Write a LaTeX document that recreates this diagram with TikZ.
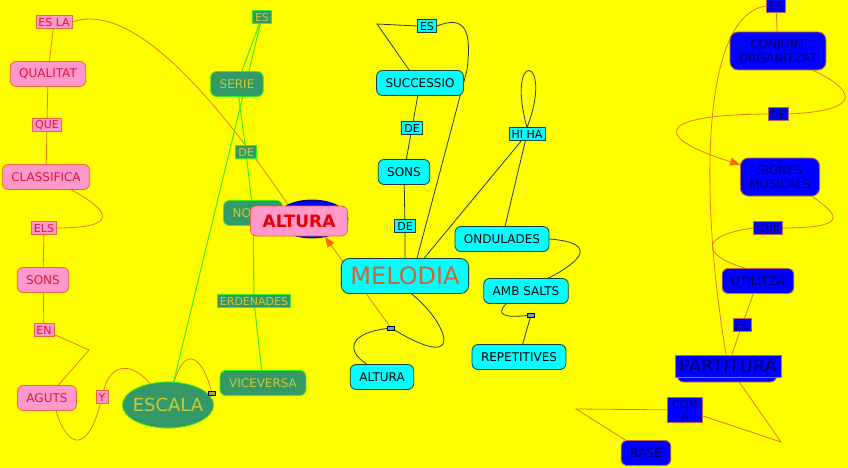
\documentclass[tikz,border=0pt]{standalone}
\usepackage{fontspec}
\setmainfont{DejaVu Sans}
\usepackage{tikz}
\usetikzlibrary{arrows.meta,shapes.geometric}
\definecolor{paper}{RGB}{255,255,0}
\definecolor{pinkfill}{RGB}{255,153,204}
\definecolor{pinkbord}{RGB}{238,100,60}
\definecolor{pinktext}{RGB}{220,20,60}
\definecolor{linkorange}{RGB}{228,120,30}
\definecolor{tiporange}{RGB}{255,102,0}
\definecolor{greenfill}{RGB}{51,153,102}
\definecolor{greenbord}{RGB}{60,235,30}
\definecolor{greentext}{RGB}{200,200,60}
\definecolor{cyanfill}{RGB}{0,255,255}
\definecolor{cyanbord}{RGB}{30,60,60}
\definecolor{melodiatext}{RGB}{204,102,51}
\definecolor{bluefill}{RGB}{0,0,255}
\definecolor{bluebord}{RGB}{190,100,80}
\definecolor{bluetext}{RGB}{0,0,100}
\pgfdeclarelayer{paper}
\pgfdeclarelayer{links}
\pgfsetlayers{paper,links,main}
\tikzset{
  concept/.style={rectangle, rounded corners=6pt, line width=0.8pt, inner xsep=9pt, inner ysep=2pt,
    minimum height=25pt, align=center, font=\fontsize{12}{14}\selectfont},
  pinkbox/.style={concept, fill=pinkfill, draw=pinkbord, text=pinktext},
  greenbox/.style={concept, fill=greenfill, draw=greenbord, text=greentext},
  cyanbox/.style={concept, fill=cyanfill, draw=cyanbord, text=black},
  bluebox/.style={concept, fill=bluefill, draw=bluebord, text=bluetext},
  linkword/.style={rectangle, line width=0.6pt, inner xsep=2.5pt, inner ysep=1pt,
    minimum height=12.5pt, align=center, font=\fontsize{11}{12}\selectfont},
  pinkword/.style={linkword, fill=pinkfill, draw=pinkbord, text=pinktext},
  greenword/.style={linkword, fill=greenfill, draw=greenbord, text=greentext},
  cyanword/.style={linkword, fill=cyanfill, draw=cyanbord, text=black},
  blueword/.style={linkword, fill=bluefill, draw=bluebord, text=bluetext},
  joint/.style={rectangle, inner sep=0pt, minimum width=7pt, minimum height=4pt, line width=0.5pt, draw=black},
  pinkln/.style={draw=linkorange, line width=0.8pt},
  greenln/.style={draw=greenbord, line width=1pt},
  darkln/.style={draw=cyanbord, line width=0.8pt},
  crossln/.style={pinkln, -{Triangle[length=10pt,width=8pt,color=tiporange]}},
}

\begin{document}
\begin{tikzpicture}[x=1pt,y=-1pt]
  \useasboundingbox (0,0) rectangle (848,468);
  \begin{pgfonlayer}{paper}
    \fill[paper] (0,0) rectangle (848,468);
  \end{pgfonlayer}

  % qualitat
  \node[pinkword] (esla) at (54,22) {ES LA};
  \node[pinkbox] (qualitat) at (48,74) {QUALITAT};
  \node[pinkword] (queP) at (47,125) {QUE};
  \node[pinkbox] (classifica) at (46,177) {CLASSIFICA};
  \node[pinkword] (els) at (44,228) {ELS};
  \node[pinkbox] (sonsP) at (43,280) {SONS};
  \node[pinkword] (en) at (44,330) {EN};
  \node[pinkbox] (aguts) at (47,398) {AGUTS};
  \node[pinkword] (yword) at (102,397) {Y};

  % escala
  \node[greenword] (esG) at (262,17) {ES};
  \node[greenbox] (serie) at (237,84) {SERIE};
  \node[greenword] (deG) at (246,152) {DE};
  \node[greenbox] (notes) at (253,213) {NOTES};
  \node[greenword] (erdenades) at (254,301) {ERDENADES};
  \node[greenbox] (viceversa) at (263,383) {VICEVERSA};
  \node[ellipse, fill=greenfill, draw=greenbord, line width=0.8pt, text=greentext,
    inner xsep=-3pt, inner ysep=0pt, minimum width=91pt, minimum height=46pt,
    font=\fontsize{18}{20}\selectfont] (escala) at (168,405) {ESCALA};
  \node[joint, fill=olive!70] (jointE) at (212,393) {};

  % altura
  \node[ellipse, fill=bluefill, draw=bluetext, line width=0.8pt, inner sep=0pt,
    minimum width=72pt, minimum height=38pt] (alturaBack) at (312,219) {};
  \node[pinkbox, text=red!90!black, minimum width=97pt, minimum height=30pt,
    font=\fontsize{17}{19}\selectfont\bfseries] (alturaP) at (299,221) {ALTURA};

  % melodia
  \node[cyanword] (esC) at (427,26) {ES};
  \node[cyanbox] (successio) at (420,83) {SUCCESSIO};
  \node[cyanword] (deC) at (412,128) {DE};
  \node[cyanbox] (sonsC) at (404,172) {SONS};
  \node[cyanword] (deM) at (405,226) {DE};
  \node[cyanword] (hiha) at (527,134) {HI HA};
  \node[cyanbox, rounded corners=8pt, minimum height=35pt, text=melodiatext,
    font=\fontsize{24}{26}\selectfont] (melodia) at (405,276) {MELODIA};
  \node[cyanbox] (ondulades) at (502,239) {ONDULADES};
  \node[cyanbox] (ambsalts) at (526,291) {AMB SALTS};
  \node[joint, fill=cyan!40!gray] (jointR) at (531,315) {};
  \node[cyanbox] (repetitives) at (519,357) {REPETITIVES};
  \node[joint, fill=cyan!40!gray] (jointM) at (391,328) {};
  \node[cyanbox] (alturaC) at (382,377) {ALTURA};

  % partitura
  \node[blueword] (esB) at (776,6) {ES};
  \node[bluebox, rounded corners=8pt, minimum height=38pt] (conjunt) at (778,51) {CONJUNT\\ORGANITZAT};
  \node[blueword] (deB) at (778,114) {DE};
  \node[bluebox, rounded corners=8pt, minimum height=38pt] (signes) at (780,177) {SIGNES\\MUSICALS};
  \node[blueword] (queB) at (768,228) {QUE};
  \node[bluebox] (utilitza) at (758,281) {UTILITZA};
  \node[blueword] (elB) at (742,325) {EL};
  \node[bluebox, minimum width=99pt, minimum height=20pt] (partShadow) at (727,372) {};
  \node[bluebox, rounded corners=0pt, inner xsep=4pt, minimum height=22pt,
    font=\fontsize{18}{20}\selectfont] (partitura) at (728,366) {PARTITURA};
  \node[blueword, minimum width=35pt, minimum height=25pt] (comA) at (685,410) {COM\\A};
  \node[bluebox] (base) at (646,453) {BASE};

  \begin{pgfonlayer}{links}
    \draw[pinkln] (esla) -- (qualitat) -- (queP) -- (classifica);
    \draw[pinkln] (esla.east) .. controls (120,5) and (190,60) .. (alturaP);
    \draw[pinkln] (classifica.-27) .. controls (100,205) and (130,228) .. (els.east);
    \draw[pinkln] (els) -- (sonsP) -- (en);
    \draw[pinkln] (en) -- (89,350) -- (aguts);
    \draw[pinkln] (aguts.-55) .. controls (68,450) and (88,452) .. (yword);
    \draw[pinkln] (yword) .. controls (110,365) and (130,360) .. (escala);
    \draw[pinkln] (escala) .. controls (183,350) and (200,350) .. (jointE);

    \draw[greenln] (esG) -- (serie);
    \draw[greenln] (esG) -- (escala);
    \draw[greenln] (serie) -- (deG) -- (notes) -- (erdenades) -- (viceversa);

    \draw[darkln] (esC.east) .. controls (465,15) and (472,30) .. (467,70) -- (melodia.56);
    \draw[darkln] (esC.west) -- (377,24) -- (successio.130);
    \draw[darkln] (successio) -- (deC) -- (sonsC) -- (deM) -- (melodia);
    \draw[darkln] (melodia.43) -- (hiha);
    \draw[darkln] (hiha.north) .. controls (505,48) and (555,55) .. (hiha.north);
    \draw[darkln] (hiha) -- (ondulades);
    \draw[darkln] (ondulades.east) .. controls (600,243) and (580,262) .. (ambsalts.30);
    \draw[darkln] (ambsalts.213) .. controls (495,315) and (505,318) .. (jointR);
    \draw[darkln] (jointR) -- (repetitives);
    \draw[darkln] (melodia.-70) .. controls (445,320) and (470,375) .. (jointM);
    \draw[darkln] (jointM) .. controls (350,333) and (345,350) .. (alturaC.140);
    \draw[crossln] (jointM) -- (alturaBack);

    \draw[pinkln] (esB) -- (conjunt);
    \draw[pinkln] (esB.west) .. controls (700,15) and (700,200) .. (partitura);
    \draw[pinkln] (conjunt.-29) .. controls (845,85) and (875,110) .. (deB.east);
    \draw[crossln] (deB.west) .. controls (645,115) and (660,140) .. (signes);
    \draw[pinkln] (signes.-31) .. controls (830,210) and (860,228) .. (queB.east);
    \draw[pinkln] (queB.west) .. controls (700,235) and (700,255) .. (utilitza.135);
    \draw[pinkln] (utilitza) -- (elB) -- (partitura);
    \draw[pinkln] (partitura) -- (781,442) -- (comA);
    \draw[pinkln] (comA) -- (576,409) -- (base);
  \end{pgfonlayer}
\end{tikzpicture}
\end{document}
